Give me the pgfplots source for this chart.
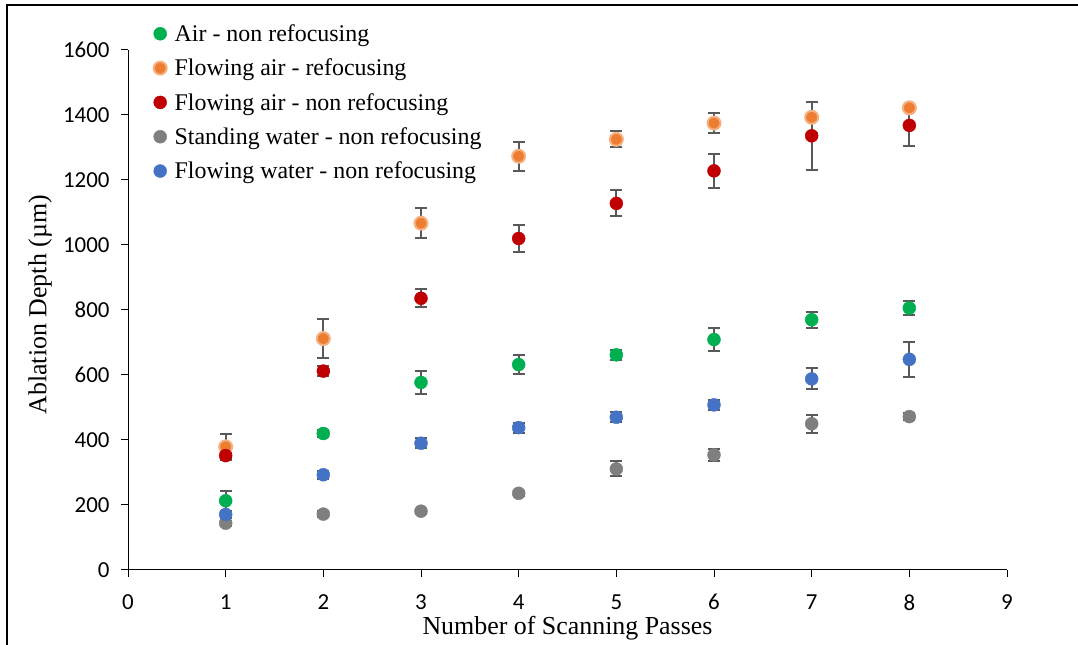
\documentclass[border=0pt]{standalone}
\usepackage{fontspec}
\setmainfont{Liberation Serif}
\newfontfamily\calibri{Carlito}
\usepackage{pgfplots}
\usepackage{pgfplotstable}
\pgfplotsset{compat=1.18}

\definecolor{cgreen}{HTML}{00B050}
\definecolor{corange}{HTML}{ED7D31}
\definecolor{chalo}{HTML}{F4B183}
\definecolor{cred}{HTML}{C00000}
\definecolor{cgray}{HTML}{7F7F7F}
\definecolor{cblue}{HTML}{4472C4}
\definecolor{cerr}{HTML}{595959}

% passes, mean ablation depth (um), standard deviation
\pgfplotstableread{
x y e
1 213 30
2 420 12
3 577 35
4 632 28
5 662 15
6 709 35
7 770 25
8 806 21
}\airnon
\pgfplotstableread{
x y e
1 379 40
2 712 60
3 1067 47
4 1273 45
5 1325 25
6 1375 30
7 1393 47
8 1422 8
}\flowairre
\pgfplotstableread{
x y e
1 352 8
2 612 15
3 836 28
4 1020 43
5 1128 40
6 1228 53
7 1336 104
8 1368 63
}\flowairnon
\pgfplotstableread{
x y e
1 144 8
2 172 10
3 181 8
4 236 8
5 311 23
6 354 18
7 450 28
8 472 12
}\standwater
\pgfplotstableread{
x y e
1 171 10
2 293 12
3 390 15
4 438 15
5 470 15
6 508 15
7 588 32
8 648 53
}\flowwater

\pgfplotsset{
  dot/.style={only marks, mark=*, mark size=6.5bp,
    mark options={fill=#1, draw=#1, line width=0.4bp},
    legend image code/.code={\draw[##1] plot[only marks] coordinates {(0bp,0bp)};},
    error bars/y dir=both, error bars/y explicit,
    error bars/error bar style={line width=2bp, color=cerr},
    error bars/error mark options={rotate=90, line width=2bp, color=cerr, mark size=6bp}},
}

\begin{document}
\begin{tikzpicture}[x=1bp,y=1bp]
\useasboundingbox (0,0) rectangle (1078,645);
\draw[line width=1.4bp] (7,0) -- (7,640) -- (1078,640);
\begin{axis}[
  at={(128bp,75bp)}, anchor=south west,
  scale only axis, width=879bp, height=520bp,
  xmin=0, xmax=9, ymin=0, ymax=1600,
  axis x line=bottom, axis y line=left,
  axis line style={-, line width=1bp, color=black},
  xtick={0,1,...,9}, ytick={0,200,...,1600},
  tick align=outside, major tick length=7bp,
  tick style={line width=1bp, color=black},
  /pgf/number format/assume math mode=true,
  /pgf/number format/1000 sep={},
  ticklabel style={font=\calibri\fontsize{23}{23}\selectfont},
  xticklabel style={yshift=-14bp},
  yticklabel style={xshift=-8bp},
  xlabel={Number of Scanning Passes},
  ylabel={Ablation Depth (µm)},
  label style={font=\fontsize{26}{26}\selectfont},
  xlabel style={at={(axis description cs:0.5,-0.112)}, anchor=center},
  ylabel style={at={(axis description cs:-0.1,0.51)}, anchor=center},
  legend style={at={(0.029,1.053)}, anchor=north west, draw=none, fill=none,
    font=\fontsize{24}{28}\selectfont, row sep=12bp, column sep=6bp, inner sep=0pt,
    cells={anchor=west}},
  legend cell align=left,
  clip=false,
]
\addplot+[dot=cgreen] table[x=x, y=y, y error=e] {\airnon};
\addlegendentry{Air - non refocusing}
\addplot+[dot=corange, mark options={fill=corange, draw=chalo, line width=2bp}] table[x=x, y=y, y error=e] {\flowairre};
\addlegendentry{Flowing air - refocusing}
\addplot+[dot=cred] table[x=x, y=y, y error=e] {\flowairnon};
\addlegendentry{Flowing air - non refocusing}
\addplot+[dot=cgray] table[x=x, y=y, y error=e] {\standwater};
\addlegendentry{Standing water - non refocusing}
\addplot+[dot=cblue] table[x=x, y=y, y error=e] {\flowwater};
\addlegendentry{Flowing water - non refocusing}
\end{axis}
\end{tikzpicture}
\end{document}
